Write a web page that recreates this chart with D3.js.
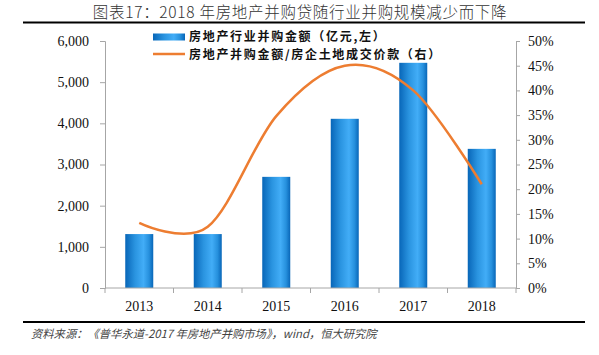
<!DOCTYPE html>
<html><head><meta charset="utf-8">
<script src="https://cdn.jsdelivr.net/npm/d3@7"></script>
<style>
body{margin:0;background:#fff;}
svg{display:block;}
</style></head>
<body>
<svg id="chart" width="599" height="355"></svg>
<script>
const categories = ["2013","2014","2015","2016","2017","2018"];
const barValues = [1310, 1310, 2700, 4110, 5470, 3380];
const lineValues = [13.2, 12.4, 34.8, 45.0, 40.0, 21.0];
const leftTicks = [0,1000,2000,3000,4000,5000,6000];
const rightTicks = [0,5,10,15,20,25,30,35,40,45,50];
const titleText = "图表17：2018 年房地产并购贷随行业并购规模减少而下降";
const sourceText = "资料来源：《普华永道-2017 年房地产并购市场》，wind，恒大研究院";
const legendLabels = ["房地产行业并购金额（亿元,左）","房地产并购金额/房企土地成交价款（右）"];

const svg = d3.select("#chart");
const serif = "'Liberation Serif','Times New Roman',serif";
const cjk = "'Noto Sans CJK SC','Noto Sans',sans-serif";
const axisColor = "#a6a6a6";

const x0 = 105, x1 = 516, yTop = 41, yBot = 288;
const x = d3.scaleBand().domain(categories).range([x0, x1]);
const yL = d3.scaleLinear().domain([0,6000]).range([yBot, yTop]);
const yR = d3.scaleLinear().domain([0,50]).range([yBot, yTop]);

// gradient for bars
const defs = svg.append("defs");
const g = defs.append("linearGradient").attr("id","barGrad").attr("x1","0%").attr("x2","100%").attr("y1","0").attr("y2","0");
g.append("stop").attr("offset","0%").attr("stop-color","#0866b8");
g.append("stop").attr("offset","35%").attr("stop-color","#2a94e0");
g.append("stop").attr("offset","65%").attr("stop-color","#42adf7");
g.append("stop").attr("offset","85%").attr("stop-color","#2690dd");
g.append("stop").attr("offset","100%").attr("stop-color","#0866b8");

// title
svg.append("text").attr("x", 300).attr("y", 18).attr("text-anchor","middle")
  .attr("font-family", cjk).attr("font-size", 15.5).attr("font-weight", 300)
  .attr("letter-spacing", 0.7).attr("fill","#333").text(titleText);
svg.append("line").attr("x1",23).attr("x2",585).attr("y1",22.5).attr("y2",22.5)
  .attr("stroke","#000").attr("stroke-width",2);

// bars
const bw = 28;
svg.append("g").selectAll("rect").data(barValues).join("rect")
  .attr("x",(d,i)=>x(categories[i]) + x.bandwidth()/2 - bw/2)
  .attr("width", bw)
  .attr("y", d=>yL(d))
  .attr("height", d=>yBot - yL(d))
  .attr("fill","url(#barGrad)");

// left axis
const axL = svg.append("g").attr("transform",`translate(${x0},0)`)
  .call(d3.axisLeft(yL).tickValues(leftTicks).tickSize(5).tickPadding(11).tickFormat(d3.format(",")));
axL.select(".domain").attr("stroke",axisColor);
axL.selectAll(".tick line").attr("stroke",axisColor);
axL.selectAll("text").attr("font-family",serif).attr("font-size",14).attr("fill","#111");

// right axis
const axR = svg.append("g").attr("transform",`translate(${x1},0)`)
  .call(d3.axisRight(yR).tickValues(rightTicks).tickSize(4).tickPadding(8).tickFormat(d=>d+"%"));
axR.select(".domain").attr("stroke",axisColor);
axR.selectAll(".tick line").attr("stroke",axisColor);
axR.selectAll("text").attr("font-family",serif).attr("font-size",14).attr("fill","#111");

// x axis
const axX = svg.append("g").attr("transform",`translate(0,${yBot})`)
  .call(d3.axisBottom(x).tickSize(0).tickPadding(10));
axX.select(".domain").attr("stroke",axisColor).attr("d",`M${x0},0H${x1}`);
axX.selectAll("text").attr("font-family",serif).attr("font-size",14).attr("fill","#111").attr("dy","0.9em");
const bounds = categories.map(c=>x(c)).concat([x1]);
axX.append("g").selectAll("line").data(bounds).join("line")
  .attr("x1",d=>d).attr("x2",d=>d).attr("y1",0).attr("y2",5).attr("stroke",axisColor);

// line
const lineGen = d3.line()
  .x((d,i)=>x(categories[i]) + x.bandwidth()/2)
  .y(d=>yR(d))
  .curve(d3.curveCardinal.tension(0));
svg.append("path").datum(lineValues).attr("d", lineGen)
  .attr("fill","none").attr("stroke","#ed7d31").attr("stroke-width",2.5);

// legend
const lg = svg.append("g");
lg.append("rect").attr("x",153).attr("y",33.5).attr("width",32).attr("height",7).attr("fill","url(#barGrad)");
lg.append("line").attr("x1",153).attr("x2",185).attr("y1",54).attr("y2",54).attr("stroke","#ed7d31").attr("stroke-width",2.5);
lg.selectAll("text").data(legendLabels).join("text")
  .attr("x",189).attr("y",(d,i)=>37 + i*17.5).attr("dy","0.35em")
  .attr("font-family",cjk).attr("font-size",12).attr("font-weight","bold")
  .attr("letter-spacing",1.7).attr("fill","#111")
  .text(d=>d);

// bottom rule and source
svg.append("line").attr("x1",23).attr("x2",585).attr("y1",322).attr("y2",322)
  .attr("stroke","#000").attr("stroke-width",2);
svg.append("text").attr("x",31).attr("y",338)
  .attr("font-family",cjk).attr("font-size",11.3).attr("font-style","italic").attr("fill","#444")
  .text(sourceText);
</script>
</body></html>
